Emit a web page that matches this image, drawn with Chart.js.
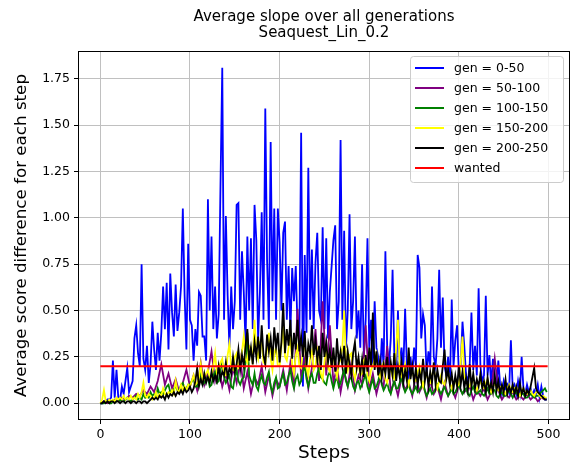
<!DOCTYPE html>
<html lang="en">
<head>
<meta charset="UTF-8">
<title>Average slope over all generations</title>
<script src="https://cdn.jsdelivr.net/npm/chart.js@4.4.0/dist/chart.umd.min.js"></script>
<style>
    body { margin: 0; background: #fff; }
    canvas { display: block; }
</style>
</head>
<body>
<canvas id="chart" width="572" height="466"></canvas>
<script>
// values
const xTicks = [0, 100, 200, 300, 400, 500];
const yTicks = [0, 0.25, 0.5, 0.75, 1, 1.25, 1.5, 1.75];

// most generations are read every 2 steps, gen 50-100 every 4 steps
const steps2 = Array.from({ length: 250 }, (_, i) => i * 2);
const steps4 = Array.from({ length: 125 }, (_, i) => i * 4);

const gen0_50 = [
    0.00, 0.00, 0.01, 0.01, 0.02, 0.02, 0.03, 0.23, 0.03, 0.18,
    0.03, 0.02, 0.09, 0.05, 0.12, 0.19, 0.06, 0.09, 0.12, 0.35,
    0.42, 0.27, 0.20, 0.75, 0.24, 0.18, 0.31, 0.11, 0.21, 0.44,
    0.29, 0.18, 0.38, 0.23, 0.38, 0.63, 0.40, 0.65, 0.29, 0.70,
    0.49, 0.36, 0.64, 0.39, 0.49, 0.63, 1.05, 0.58, 0.29, 0.86,
    0.45, 0.42, 0.23, 0.40, 0.31, 0.60, 0.58, 0.36, 0.36, 0.23,
    1.10, 0.50, 0.90, 0.40, 0.63, 0.35, 0.48, 1.17, 1.81, 0.45,
    1.01, 0.58, 0.30, 0.63, 0.40, 0.55, 1.07, 1.08, 0.45, 0.82,
    0.60, 0.32, 0.90, 0.50, 0.89, 0.40, 1.07, 0.88, 0.35, 0.60,
    1.03, 0.45, 1.59, 0.77, 0.40, 1.41, 0.55, 1.05, 0.45, 1.05,
    0.87, 0.50, 0.92, 0.98, 0.45, 0.74, 0.38, 0.73, 0.55, 0.74,
    0.40, 0.35, 1.46, 0.09, 0.80, 0.38, 1.27, 0.45, 0.83, 0.40,
    0.76, 0.92, 0.50, 0.45, 0.95, 0.40, 0.89, 0.35, 0.60, 0.74,
    0.88, 0.96, 0.40, 0.55, 1.42, 0.45, 0.93, 0.30, 0.50, 1.02,
    0.40, 0.55, 0.90, 0.35, 0.50, 0.30, 0.75, 0.25, 0.45, 0.89,
    0.30, 0.45, 0.20, 0.55, 0.30, 0.25, 0.15, 0.35, 0.20, 0.82,
    0.30, 0.20, 0.35, 0.72, 0.25, 0.15, 0.50, 0.20, 0.30, 0.18,
    0.51, 0.20, 0.12, 0.25, 0.15, 0.30, 0.20, 0.80, 0.73, 0.35,
    0.48, 0.42, 0.15, 0.28, 0.20, 0.63, 0.25, 0.20, 0.35, 0.72,
    0.30, 0.57, 0.20, 0.15, 0.25, 0.10, 0.56, 0.20, 0.34, 0.42,
    0.15, 0.20, 0.44, 0.31, 0.15, 0.12, 0.20, 0.49, 0.18, 0.31,
    0.15, 0.62, 0.20, 0.12, 0.15, 0.58, 0.15, 0.26, 0.10, 0.24,
    0.12, 0.08, 0.23, 0.10, 0.05, 0.12, 0.08, 0.10, 0.06, 0.34,
    0.08, 0.10, 0.05, 0.12, 0.06, 0.25, 0.08, 0.05, 0.10, 0.06,
    0.08, 0.04, 0.07, 0.05, 0.10, 0.03, 0.09, 0.04, 0.02, 0.02
];

const gen50_100 = [
    0.00, 0.01, 0.00, 0.01, 0.02, 0.01, 0.03, 0.02, 0.04, 0.03,
    0.05, 0.04, 0.07, 0.05, 0.09, 0.06, 0.12, 0.21, 0.10, 0.16,
    0.08, 0.13, 0.06, 0.11, 0.18, 0.09, 0.15, 0.07, 0.22, 0.10,
    0.17, 0.28, 0.12, 0.20, 0.09, 0.16, 0.07, 0.19, 0.11, 0.24,
    0.08, 0.17, 0.05, 0.14, 0.10, 0.20, 0.06, 0.15, 0.04, 0.13,
    0.09, 0.18, 0.07, 0.22, 0.10, 0.51, 0.14, 0.24, 0.08, 0.19,
    0.40, 0.12, 0.55, 0.15, 0.42, 0.11, 0.20, 0.06, 0.17, 0.09,
    0.22, 0.07, 0.15, 0.10, 0.42, 0.08, 0.16, 0.05, 0.13, 0.09,
    0.31, 0.06, 0.12, 0.04, 0.14, 0.07, 0.11, 0.04, 0.15, 0.06,
    0.10, 0.03, 0.12, 0.05, 0.09, 0.02, 0.11, 0.04, 0.08, 0.03,
    0.10, 0.05, 0.07, 0.09, 0.02, 0.07, 0.04, 0.08, 0.02, 0.06,
    0.24, 0.07, 0.02, 0.05, 0.03, 0.06, 0.02, 0.04, 0.02, 0.05,
    0.02, 0.04, 0.01, 0.03, 0.02
];

const gen100_150 = [
    0.00, 0.00, 0.00, 0.01, 0.01, 0.00, 0.00, 0.01, 0.01, 0.01,
    0.01, 0.02, 0.01, 0.01, 0.02, 0.03, 0.02, 0.01, 0.02, 0.03,
    0.04, 0.02, 0.03, 0.02, 0.05, 0.03, 0.04, 0.03, 0.06, 0.04,
    0.05, 0.04, 0.08, 0.05, 0.06, 0.05, 0.07, 0.09, 0.10, 0.06,
    0.06, 0.08, 0.09, 0.07, 0.07, 0.10, 0.11, 0.08, 0.08, 0.10,
    0.10, 0.12, 0.13, 0.09, 0.09, 0.14, 0.16, 0.10, 0.11, 0.13,
    0.14, 0.09, 0.10, 0.15, 0.17, 0.11, 0.12, 0.18, 0.22, 0.14,
    0.11, 0.13, 0.15, 0.09, 0.08, 0.14, 0.18, 0.12, 0.10, 0.13,
    0.14, 0.22, 0.38, 0.15, 0.12, 0.10, 0.16, 0.09, 0.07, 0.12,
    0.15, 0.11, 0.10, 0.14, 0.17, 0.09, 0.06, 0.11, 0.14, 0.08,
    0.09, 0.13, 0.16, 0.10, 0.11, 0.15, 0.18, 0.12, 0.08, 0.13,
    0.15, 0.10, 0.12, 0.17, 0.20, 0.13, 0.09, 0.14, 0.16, 0.11,
    0.11, 0.16, 0.19, 0.14, 0.13, 0.11, 0.10, 0.15, 0.17, 0.12,
    0.08, 0.12, 0.14, 0.09, 0.11, 0.15, 0.18, 0.12, 0.09, 0.13,
    0.14, 0.09, 0.07, 0.11, 0.12, 0.08, 0.10, 0.13, 0.15, 0.09,
    0.06, 0.10, 0.13, 0.08, 0.09, 0.12, 0.16, 0.10, 0.07, 0.09,
    0.11, 0.07, 0.05, 0.09, 0.12, 0.08, 0.08, 0.11, 0.14, 0.09,
    0.06, 0.08, 0.10, 0.07, 0.05, 0.07, 0.09, 0.06, 0.07, 0.09,
    0.11, 0.07, 0.04, 0.06, 0.08, 0.05, 0.06, 0.08, 0.10, 0.07,
    0.05, 0.07, 0.09, 0.06, 0.04, 0.06, 0.08, 0.05, 0.06, 0.08,
    0.10, 0.07, 0.05, 0.07, 0.08, 0.05, 0.04, 0.07, 0.09, 0.06,
    0.05, 0.06, 0.07, 0.05, 0.04, 0.06, 0.08, 0.05, 0.05, 0.07,
    0.07, 0.04, 0.03, 0.05, 0.06, 0.04, 0.04, 0.06, 0.07, 0.05,
    0.03, 0.05, 0.06, 0.04, 0.04, 0.05, 0.05, 0.03, 0.03, 0.04,
    0.05, 0.04, 0.03, 0.04, 0.04, 0.05, 0.06, 0.07, 0.08, 0.06
];

const gen150_200 = [
    0.00, 0.02, 0.07, 0.01, 0.01, 0.02, 0.01, 0.02, 0.01, 0.03,
    0.02, 0.03, 0.02, 0.04, 0.02, 0.03, 0.02, 0.04, 0.02, 0.03,
    0.02, 0.05, 0.03, 0.06, 0.11, 0.04, 0.03, 0.05, 0.04, 0.02,
    0.03, 0.06, 0.03, 0.05, 0.04, 0.08, 0.05, 0.04, 0.06, 0.05,
    0.07, 0.05, 0.12, 0.07, 0.06, 0.10, 0.07, 0.09, 0.07, 0.10,
    0.09, 0.12, 0.15, 0.10, 0.11, 0.14, 0.21, 0.12, 0.13, 0.16,
    0.18, 0.13, 0.14, 0.20, 0.27, 0.16, 0.17, 0.22, 0.24, 0.15,
    0.15, 0.26, 0.32, 0.19, 0.18, 0.25, 0.27, 0.19, 0.20, 0.28,
    0.36, 0.24, 0.22, 0.31, 0.30, 0.21, 0.45, 0.28, 0.24, 0.33,
    0.33, 0.22, 0.21, 0.29, 0.38, 0.24, 0.18, 0.27, 0.30, 0.20,
    0.20, 0.31, 0.42, 0.25, 0.23, 0.30, 0.35, 0.21, 0.16, 0.26,
    0.30, 0.20, 0.19, 0.28, 0.33, 0.19, 0.15, 0.24, 0.28, 0.18,
    0.20, 0.29, 0.25, 0.16, 0.13, 0.22, 0.31, 0.19, 0.17, 0.24,
    0.26, 0.18, 0.14, 0.21, 0.24, 0.30, 0.50, 0.23, 0.18, 0.26,
    0.27, 0.17, 0.13, 0.19, 0.22, 0.15, 0.16, 0.23, 0.25, 0.15,
    0.12, 0.18, 0.20, 0.24, 0.27, 0.16, 0.14, 0.20, 0.22, 0.13,
    0.11, 0.16, 0.19, 0.14, 0.13, 0.30, 0.45, 0.20, 0.15, 0.18,
    0.21, 0.14, 0.10, 0.15, 0.18, 0.13, 0.12, 0.17, 0.20, 0.13,
    0.09, 0.13, 0.16, 0.12, 0.11, 0.15, 0.19, 0.12, 0.08, 0.12,
    0.15, 0.11, 0.10, 0.14, 0.17, 0.11, 0.08, 0.11, 0.13, 0.09,
    0.10, 0.22, 0.36, 0.15, 0.12, 0.10, 0.09, 0.12, 0.14, 0.09,
    0.07, 0.10, 0.12, 0.09, 0.08, 0.11, 0.13, 0.09, 0.06, 0.09,
    0.11, 0.08, 0.07, 0.09, 0.09, 0.06, 0.05, 0.08, 0.10, 0.07,
    0.06, 0.08, 0.09, 0.06, 0.04, 0.07, 0.08, 0.06, 0.05, 0.06,
    0.07, 0.05, 0.04, 0.06, 0.06, 0.04, 0.03, 0.04, 0.03, 0.03
];

const gen200_250 = [
    0.00, 0.00, 0.01, 0.00, 0.01, 0.00, 0.01, 0.01, 0.00, 0.01,
    0.01, 0.00, 0.01, 0.01, 0.00, 0.01, 0.01, 0.00, 0.01, 0.01,
    0.00, 0.01, 0.01, 0.00, 0.01, 0.01, 0.00, 0.01, 0.02, 0.03,
    0.02, 0.03, 0.02, 0.04, 0.03, 0.04, 0.02, 0.05, 0.03, 0.05,
    0.04, 0.06, 0.04, 0.06, 0.05, 0.07, 0.05, 0.08, 0.06, 0.07,
    0.09, 0.06, 0.08, 0.12, 0.19, 0.09, 0.13, 0.10, 0.16, 0.11,
    0.14, 0.11, 0.17, 0.12, 0.15, 0.12, 0.20, 0.13, 0.17, 0.15,
    0.22, 0.14, 0.19, 0.16, 0.25, 0.17, 0.21, 0.29, 0.18, 0.26,
    0.20, 0.31, 0.40, 0.23, 0.30, 0.21, 0.33, 0.25, 0.36, 0.24,
    0.42, 0.26, 0.21, 0.37, 0.28, 0.35, 0.23, 0.41, 0.30, 0.38,
    0.22, 0.33, 0.54, 0.27, 0.40, 0.31, 0.45, 0.24, 0.38, 0.29,
    0.45, 0.28, 0.36, 0.25, 0.39, 0.20, 0.32, 0.27, 0.42, 0.26,
    0.34, 0.23, 0.31, 0.18, 0.38, 0.25, 0.33, 0.22, 0.29, 0.19,
    0.30, 0.17, 0.35, 0.22, 0.28, 0.20, 0.31, 0.16, 0.28, 0.21,
    0.15, 0.27, 0.33, 0.19, 0.25, 0.16, 0.24, 0.14, 0.26, 0.17,
    0.30, 0.20, 0.49, 0.18, 0.28, 0.15, 0.23, 0.14, 0.21, 0.16,
    0.25, 0.13, 0.22, 0.15, 0.27, 0.12, 0.20, 0.14, 0.22, 0.11,
    0.18, 0.12, 0.30, 0.13, 0.20, 0.11, 0.19, 0.10, 0.17, 0.12,
    0.24, 0.12, 0.19, 0.09, 0.17, 0.11, 0.22, 0.10, 0.18, 0.12,
    0.11, 0.20, 0.29, 0.13, 0.18, 0.10, 0.16, 0.08, 0.15, 0.09,
    0.20, 0.10, 0.17, 0.08, 0.14, 0.07, 0.21, 0.09, 0.16, 0.08,
    0.13, 0.09, 0.16, 0.08, 0.12, 0.06, 0.14, 0.07, 0.11, 0.06,
    0.15, 0.07, 0.12, 0.05, 0.10, 0.06, 0.13, 0.05, 0.09, 0.06,
    0.10, 0.05, 0.09, 0.04, 0.11, 0.05, 0.08, 0.04, 0.07, 0.05,
    0.09, 0.14, 0.19, 0.08, 0.06, 0.05, 0.04, 0.03, 0.02, 0.02
];

const wantedSteps = [0, 499];
const wantedVals = [0.2, 0.2];

const font = 'DejaVu Sans';

function pts(steps, vals) {
    return steps.map((s, i) => ({ x: s, y: vals[i] }));
}

function line(label, color, steps, vals, width) {
    return {
        label: label,
        data: pts(steps, vals),
        borderColor: color,
        backgroundColor: color,
        borderWidth: width || 1.8,
        pointRadius: 0,
        tension: 0,
        fill: false
    };
}

// first dataset is drawn on top, so list them from red down to blue
const datasets = [
    line('wanted', '#ff0000', wantedSteps, wantedVals, 2),
    line('gen = 200-250', '#000000', steps2, gen200_250),
    line('gen = 150-200', '#ffff00', steps2, gen150_200),
    line('gen = 100-150', '#008000', steps2, gen100_150),
    line('gen = 50-100', '#800080', steps4, gen50_100),
    line('gen = 0-50', '#0000ff', steps2, gen0_50)
];

// frame, legend box and the text around the axes
const decor = {
    id: 'decor',
    afterDatasetsDraw(chart) {
        const ctx = chart.ctx;
        const a = chart.chartArea;
        ctx.save();
        ctx.strokeStyle = '#000';
        ctx.lineWidth = 1;
        ctx.strokeRect(a.left + 0.5, a.top + 0.5, a.right - a.left - 1, a.bottom - a.top - 1);

        // legend
        const lx = 410, ly = 56, lw = 153, lh = 126;
        ctx.beginPath();
        ctx.roundRect(lx + 0.5, ly + 0.5, lw, lh, 3);
        ctx.fillStyle = 'rgba(255,255,255,0.8)';
        ctx.fill();
        ctx.strokeStyle = '#cccccc';
        ctx.stroke();
        const items = chart.data.datasets.slice().reverse();
        ctx.font = '12.5px "' + font + '"';
        ctx.textBaseline = 'middle';
        ctx.textAlign = 'left';
        items.forEach((d, k) => {
            const y = ly + 12 + k * 20;
            ctx.strokeStyle = d.borderColor;
            ctx.lineWidth = 2;
            ctx.beginPath();
            ctx.moveTo(415, y);
            ctx.lineTo(444, y);
            ctx.stroke();
            ctx.fillStyle = '#000';
            ctx.fillText(d.label, 454, y + 1);
        });
        ctx.restore();
    },
    afterDraw(chart) {
        const ctx = chart.ctx;
        const a = chart.chartArea;
        const cx = (a.left + a.right) / 2;
        ctx.save();
        ctx.fillStyle = '#000';
        ctx.textAlign = 'center';
        ctx.textBaseline = 'middle';
        ctx.font = '15px "' + font + '"';
        ctx.fillText('Average slope over all generations', cx, 17);
        ctx.fillText('Seaquest_Lin_0.2', cx, 33);
        ctx.font = '18.5px "' + font + '"';
        ctx.fillText('Steps', cx, 453);
        ctx.font = '16.7px "' + font + '"';
        ctx.translate(22, (a.top + a.bottom) / 2);
        ctx.rotate(-Math.PI / 2);
        ctx.fillText('Average score difference for each step', 0, 0);
        ctx.restore();
    }
};

const tickFont = { family: font, size: 12.5 };

new Chart(document.getElementById('chart'), {
    type: 'line',
    data: { datasets: datasets },
    options: {
        responsive: false,
        animation: false,
        devicePixelRatio: 1,
        layout: { padding: { top: 51, right: 2, left: 0, bottom: 0 } },
        plugins: {
            legend: { display: false },
            title: { display: false },
            tooltip: { enabled: false }
        },
        scales: {
            x: {
                type: 'linear',
                min: -24.95,
                max: 523.95,
                afterBuildTicks: s => { s.ticks = xTicks.map(v => ({ value: v })); },
                afterFit: s => { s.height = 46; },
                grid: { color: '#c0c0c0', lineWidth: 1, tickColor: '#000', tickLength: 4 },
                border: { display: false },
                ticks: { color: '#000', font: tickFont, padding: 3, maxRotation: 0, callback: v => v }
            },
            y: {
                type: 'linear',
                min: -0.0905,
                max: 1.9005,
                afterBuildTicks: s => { s.ticks = yTicks.map(v => ({ value: v })); },
                afterFit: s => { s.width = 78; },
                grid: { color: '#c0c0c0', lineWidth: 1, tickColor: '#000', tickLength: 4 },
                border: { display: false },
                ticks: { color: '#000', font: tickFont, padding: 4, callback: v => v.toFixed(2) }
            }
        }
    },
    plugins: [decor]
});
</script>
</body>
</html>
